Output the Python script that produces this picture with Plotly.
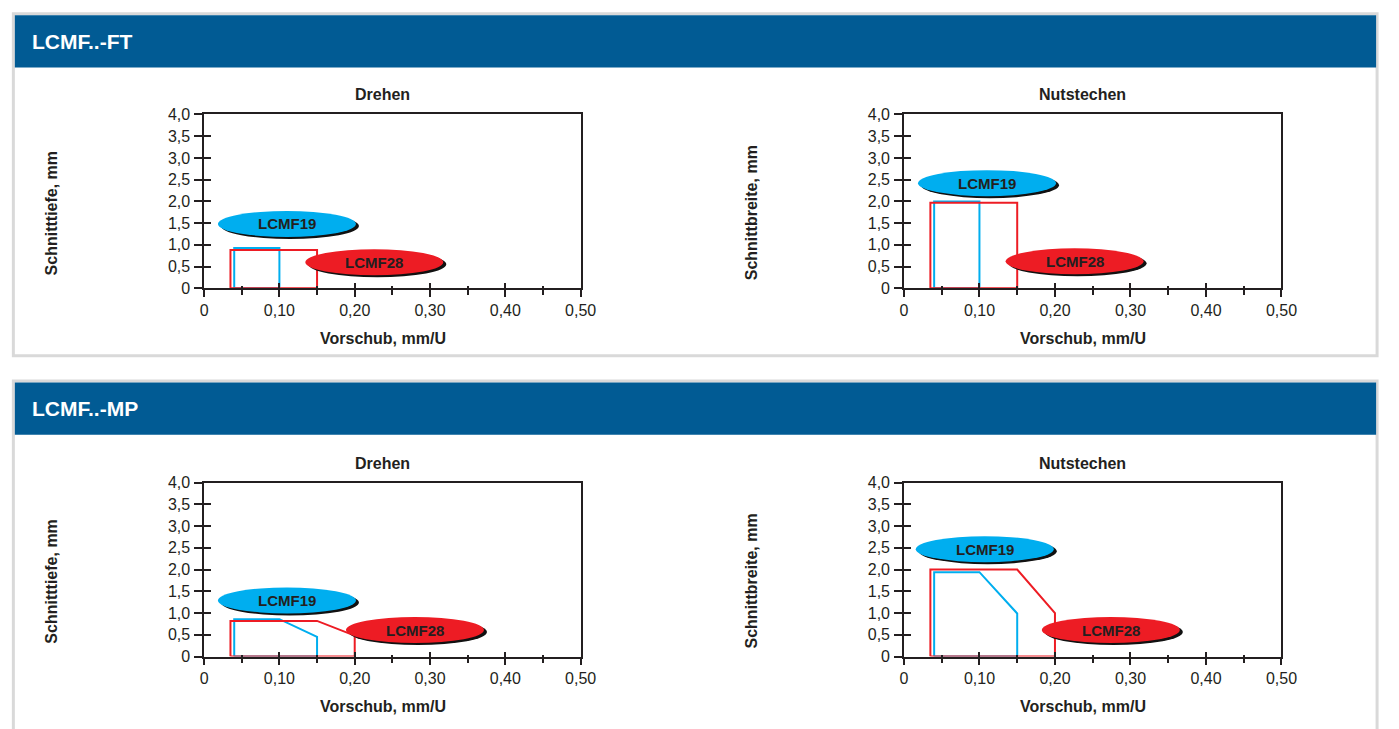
import plotly.graph_objects as go

# ---------------- data ----------------
x_tick_vals = [0, 0.1, 0.2, 0.3, 0.4, 0.5]
x_tick_text = ["0", "0,10", "0,20", "0,30", "0,40", "0,50"]
y_tick_vals = [0, 0.5, 1.0, 1.5, 2.0, 2.5, 3.0, 3.5, 4.0]
y_tick_text = ["0", "0,5", "1,0", "1,5", "2,0", "2,5", "3,0", "3,5", "4,0"]

panel_titles = ["LCMF..-FT", "LCMF..-MP"]
chart_titles = ["Drehen", "Nutstechen", "Drehen", "Nutstechen"]
y_titles = ["Schnitttiefe, mm", "Schnittbreite, mm", "Schnitttiefe, mm", "Schnittbreite, mm"]
x_title = "Vorschub, mm/U"

# FT Drehen
ft_dreh_19_x = [0.04, 0.04, 0.10, 0.10, 0.04]
ft_dreh_19_y = [0, 0.93, 0.93, 0, 0]
ft_dreh_28_x = [0.035, 0.035, 0.15, 0.15, 0.035]
ft_dreh_28_y = [0, 0.88, 0.88, 0, 0]
# FT Nutstechen
ft_nut_19_x = [0.04, 0.04, 0.10, 0.10, 0.04]
ft_nut_19_y = [0, 2.0, 2.0, 0, 0]
ft_nut_28_x = [0.035, 0.035, 0.15, 0.15, 0.035]
ft_nut_28_y = [0, 1.97, 1.97, 0, 0]
# MP Drehen
mp_dreh_19_x = [0.04, 0.04, 0.10, 0.15, 0.15, 0.04]
mp_dreh_19_y = [0, 0.86, 0.86, 0.45, 0, 0]
mp_dreh_28_x = [0.035, 0.035, 0.15, 0.20, 0.20, 0.035]
mp_dreh_28_y = [0, 0.82, 0.82, 0.48, 0, 0]
# MP Nutstechen
mp_nut_19_x = [0.04, 0.04, 0.10, 0.15, 0.15, 0.04]
mp_nut_19_y = [0, 1.94, 1.94, 0.99, 0, 0]
mp_nut_28_x = [0.035, 0.035, 0.15, 0.20, 0.20, 0.035]
mp_nut_28_y = [0, 2.0, 2.0, 1.0, 0, 0]

series_names = ["LCMF19", "LCMF28"]
# label (ellipse) centres per chart: [(x19, y19), (x28, y28)]
label_pos = [
    [(0.11, 1.48), (0.226, 0.60)],
    [(0.11, 2.42), (0.226, 0.62)],
    [(0.11, 1.29), (0.28, 0.61)],
    [(0.107, 2.47), (0.274, 0.61)],
]

charts = [
    [(ft_dreh_19_x, ft_dreh_19_y), (ft_dreh_28_x, ft_dreh_28_y)],
    [(ft_nut_19_x, ft_nut_19_y), (ft_nut_28_x, ft_nut_28_y)],
    [(mp_dreh_19_x, mp_dreh_19_y), (mp_dreh_28_x, mp_dreh_28_y)],
    [(mp_nut_19_x, mp_nut_19_y), (mp_nut_28_x, mp_nut_28_y)],
]

# ---------------- styling ----------------
W, H = 1399, 729
BLUE = "rgb(0,174,239)"
RED = "rgb(237,28,36)"
HEADER = "rgb(1,91,148)"
FRAME = "rgb(217,217,217)"
INK = "#231f20"
FONT = "Liberation Sans, Arial, sans-serif"


def px(x):
    return x / W


def py(y):
    return 1 - y / H


# plot areas in pixels: (left, right, top, bottom)
areas = [(203, 585, 109, 287), (913, 1296, 109, 287),
         (203, 585, 486, 664), (913, 1296, 486, 664)]

fig = go.Figure()
layout = dict(
    width=W, height=H, margin=dict(l=0, r=0, t=0, b=0),
    paper_bgcolor="white", plot_bgcolor="white", showlegend=False,
)
shapes = []
annotations = []

# panel frames + headers
for i, (top, bottom) in enumerate([(6, 356), (382, 740)]):
    shapes.append(dict(type="rect", xref="paper", yref="paper", layer="below",
                       x0=px(9.5), x1=px(1393), y0=py(bottom), y1=py(top),
                       line=dict(color=FRAME, width=3), fillcolor="white"))
    shapes.append(dict(type="rect", xref="paper", yref="paper", layer="below",
                       x0=px(11), x1=px(1392), y0=py(top + 55), y1=py(top + 1.5),
                       line=dict(width=0), fillcolor=HEADER))
    annotations.append(dict(text="<b>" + panel_titles[i] + "</b>", xref="paper", yref="paper",
                            x=px(26), y=py(top + 28.5), xanchor="left", yanchor="middle",
                            showarrow=False, font=dict(family=FONT, size=21, color="white")))

for k in range(4):
    n = k + 1
    l, r, t, b = areas[k]
    xa = "xaxis" if n == 1 else f"xaxis{n}"
    ya = "yaxis" if n == 1 else f"yaxis{n}"
    xr = "x" if n == 1 else f"x{n}"
    yr = "y" if n == 1 else f"y{n}"
    common_line = dict(showline=True, linecolor=INK, linewidth=1.5, mirror=True,
                       showgrid=False, zeroline=False, fixedrange=True)
    layout[xa] = dict(domain=[px(l), px(r)], anchor=yr, range=[0, 0.5],
                      tickmode="array", tickvals=x_tick_vals, ticktext=x_tick_text,
                      ticks="outside", ticklen=7, tickwidth=1.5, tickcolor=INK,
                      minor=dict(ticks="outside", dtick=0.05, tick0=0, ticklen=5,
                                 tickwidth=1.5, tickcolor=INK),
                      tickfont=dict(family=FONT, size=16, color=INK), **common_line)
    layout[ya] = dict(domain=[py(b), py(t)], anchor=xr, range=[0, 4],
                      tickmode="array", tickvals=y_tick_vals, ticktext=y_tick_text,
                      ticks="outside", ticklen=8, tickwidth=1.5, tickcolor=INK, ticklabelstandoff=1,
                      tickfont=dict(family=FONT, size=16, color=INK), **common_line)
    # overlay axes for ticks crossing the axis line
    on = n + 4
    layout[f"xaxis{on}"] = dict(overlaying=xr, anchor=yr, range=[0, 0.5], side="bottom",
                                tickmode="array", tickvals=x_tick_vals, showticklabels=False,
                                ticks="inside", ticklen=5, tickwidth=1.5, tickcolor=INK,
                                minor=dict(ticks="inside", dtick=0.05, tick0=0, ticklen=2,
                                           tickwidth=1.5, tickcolor=INK),
                                showline=False, showgrid=False, zeroline=False, fixedrange=True)
    layout[f"yaxis{on}"] = dict(overlaying=yr, anchor=xr, range=[0, 4], side="left",
                                tickmode="array", tickvals=y_tick_vals, showticklabels=False,
                                ticks="inside", ticklen=7, tickwidth=1.5, tickcolor=INK,
                                showline=False, showgrid=False, zeroline=False, fixedrange=True)
    fig.add_trace(go.Scatter(x=[], y=[], xaxis=f"x{on}", yaxis=f"y{on}", hoverinfo="skip"))

    # polygons
    for (xs, ys), col, name in zip(charts[k], [BLUE, RED], series_names):
        fig.add_trace(go.Scatter(x=xs, y=ys, mode="lines", name=name, xaxis=xr, yaxis=yr,
                                 line=dict(color=col, width=2), cliponaxis=False,
                                 hoverinfo="skip"))

    # ellipse labels
    for (cx, cy), col, name in zip(label_pos[k], [BLUE, RED], series_names):
        shapes.append(dict(type="circle", xref=xr, yref=yr, xsizemode="pixel", ysizemode="pixel",
                           xanchor=cx, yanchor=cy, x0=-66, x1=72, y0=-15, y1=11,
                           fillcolor="#111111", line=dict(width=0), layer="above"))
        shapes.append(dict(type="circle", xref=xr, yref=yr, xsizemode="pixel", ysizemode="pixel",
                           xanchor=cx, yanchor=cy, x0=-69, x1=69, y0=-13, y1=13,
                           fillcolor=col, line=dict(width=0), layer="above"))
        annotations.append(dict(text="<b>" + name + "</b>", xref=xr, yref=yr, x=cx, y=cy,
                                showarrow=False, xanchor="center", yanchor="middle",
                                font=dict(family=FONT, size=15, color=INK)))

    cxp = (l + r) / 2 - 10
    annotations.append(dict(text="<b>" + chart_titles[k] + "</b>", xref="paper", yref="paper",
                            x=px(cxp), y=py(t - 20), showarrow=False, xanchor="center",
                            yanchor="middle", font=dict(family=FONT, size=16, color=INK)))
    annotations.append(dict(text="<b>" + x_title + "</b>", xref="paper", yref="paper",
                            x=px(cxp), y=py(b + 51), showarrow=False, xanchor="center",
                            yanchor="middle", font=dict(family=FONT, size=16, color=INK)))
    annotations.append(dict(text="<b>" + y_titles[k] + "</b>", xref="paper", yref="paper",
                            x=px(l - 155), y=py((t + b) / 2 + 12), showarrow=False,
                            xanchor="center", yanchor="middle", textangle=-90,
                            font=dict(family=FONT, size=16, color=INK)))

layout["shapes"] = shapes
layout["annotations"] = annotations
fig.update_layout(**layout)
fig.write_html("out.html", config={"displayModeBar": False},
               post_script="document.body.style.margin='0';document.body.style.overflow='hidden';")
